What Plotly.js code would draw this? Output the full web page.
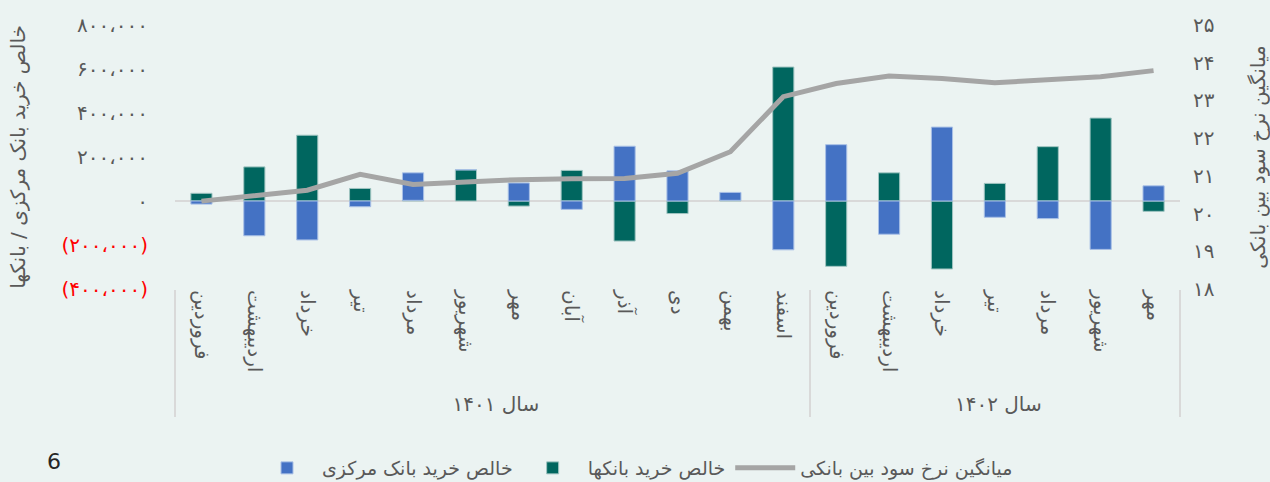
<!DOCTYPE html>
<html>
<head>
<meta charset="utf-8">
<script src="https://cdn.plot.ly/plotly-3.0.1.min.js"></script>
<style>
  html, body { margin: 0; padding: 0; background: #ebf3f2; }
  #plot { width: 1270px; height: 482px; }
</style>
</head>
<body>
<div id="plot"></div>
<script>
// months of the two years (shamsi)
let months1401 = ["فروردین", "اردیبهشت", "خرداد", "تیر", "مرداد", "شهریور", "مهر", "آبان", "آذر", "دی", "بهمن", "اسفند"]
let months1402 = ["فروردین", "اردیبهشت", "خرداد", "تیر", "مرداد", "شهریور", "مهر"]
let yearLabels = ["سال ۱۴۰۱", "سال ۱۴۰۲"]

// net purchase of central bank
let centralBank = [-14000, -158000, -177000, -26000, 125000, 0, 82000, -38000, 249000, 137000, 36000, -222000,
  256000, -151000, 336000, -74000, -80000, -220000, 69000]
// net purchase of banks
let banks = [35000, 155000, 299000, 57000, 3000, 142000, -23000, 139000, -182000, -57000, 3000, 609000,
  -297000, 128000, -309000, 80000, 247000, 377000, -47000]
// average interbank rate
let rate = [20.33, 20.49, 20.62, 21.04, 20.77, 20.84, 20.9, 20.92, 20.93, 21.07, 21.64, 23.1,
  23.45, 23.65, 23.58, 23.47, 23.54, 23.63, 23.79]

// left axis ticks
let leftTicks = [-400000, -200000, 0, 200000, 400000, 600000, 800000]
let leftText = ["<span style='color:#ff0000'>(۴۰۰،۰۰۰)</span>", "<span style='color:#ff0000'>(۲۰۰،۰۰۰)</span>",
  "۰", "۲۰۰،۰۰۰", "۴۰۰،۰۰۰", "۶۰۰،۰۰۰", "۸۰۰،۰۰۰"]
// right axis ticks
let rightTicks = [18, 19, 20, 21, 22, 23, 24, 25]
let rightText = ["۱۸", "۱۹", "۲۰", "۲۱", "۲۲", "۲۳", "۲۴", "۲۵"]

// build two-level x
let xYear = []
let xMonth = []
for (let i = 0; i < months1401.length; i++) {
  xYear.push(yearLabels[0]);
  xMonth.push(months1401[i]);
}
for (let i = 0; i < months1402.length; i++) {
  xYear.push(yearLabels[1]);
  xMonth.push(months1402[i]);
}

let fontFa = "DejaVu Sans, sans-serif"

let traceBanks = {
  x: [xYear, xMonth],
  y: banks,
  name: "خالص خرید بانکها",
  type: "bar",
  marker: { color: "#00665f", line: { color: "#9fc4c1", width: 1 } },
  legendrank: 2
};
let traceCentral = {
  x: [xYear, xMonth],
  y: centralBank,
  name: "خالص خرید بانک مرکزی",
  type: "bar",
  marker: { color: "#4472c4", line: { color: "#a9c0e6", width: 1 } },
  legendrank: 1
};
let traceRate = {
  x: [xYear, xMonth],
  y: rate,
  name: "میانگین نرخ سود بین بانکی",
  type: "scatter",
  mode: "lines",
  yaxis: "y2",
  line: { color: "#a5a5a5", width: 5 },
  legendrank: 3
};

let data = [traceBanks, traceCentral, traceRate];

let layout = {
  width: 1270,
  height: 482,
  paper_bgcolor: "#ebf3f2",
  plot_bgcolor: "#ebf3f2",
  barmode: "relative",
  bargap: 0.6,
  font: { family: fontFa, color: "#595959", size: 14 },
  margin: { l: 175, r: 90, t: 25, b: 193, pad: 0 },
  showlegend: true,
  legend: {
    orientation: "h",
    xref: "container",
    yref: "container",
    x: 0.5,
    xanchor: "center",
    y: 0.029,
    yanchor: "middle",
    itemwidth: 60,
    font: { size: 19, color: "#595959" },
    bgcolor: "rgba(0,0,0,0)"
  },
  xaxis: {
    type: "multicategory",
    automargin: false,
    tickangle: 90,
    showgrid: false,
    showline: false,
    ticks: "",
    showdividers: true,
    dividercolor: "#d9d9d9",
    dividerwidth: 2,
    tickfont: { size: 20, color: "#595959" }
  },
  yaxis: {
    automargin: false,
    range: [-400000, 800000],
    tickvals: leftTicks,
    ticktext: leftText,
    showgrid: false,
    zeroline: true,
    zerolinecolor: "#d9d9d9",
    zerolinewidth: 2,
    ticklabelstandoff: 26,
    tickfont: { size: 20, color: "#595959" },
    title: { text: "خالص خرید بانک مرکزی / بانکها", font: { size: 20, color: "#595959" }, standoff: 30 }
  },
  yaxis2: {
    automargin: false,
    overlaying: "y",
    side: "right",
    range: [18, 25],
    tickvals: rightTicks,
    ticktext: rightText,
    showgrid: false,
    zeroline: false,
    ticklabelstandoff: 12,
    tickfont: { size: 20, color: "#595959" },
    title: { text: "میانگین نرخ سود بین بانکی", font: { size: 20, color: "#595959" }, standoff: 40 }
  },
  annotations: [{
    xref: "paper", yref: "paper",
    x: -0.129, y: -0.655,
    yanchor: "middle",
    text: "6",
    showarrow: false,
    font: { family: "DejaVu Sans, sans-serif", size: 22, color: "#262626" }
  }]
};

Plotly.newPlot("plot", data, layout, { displayModeBar: false });
</script>
</body>
</html>
